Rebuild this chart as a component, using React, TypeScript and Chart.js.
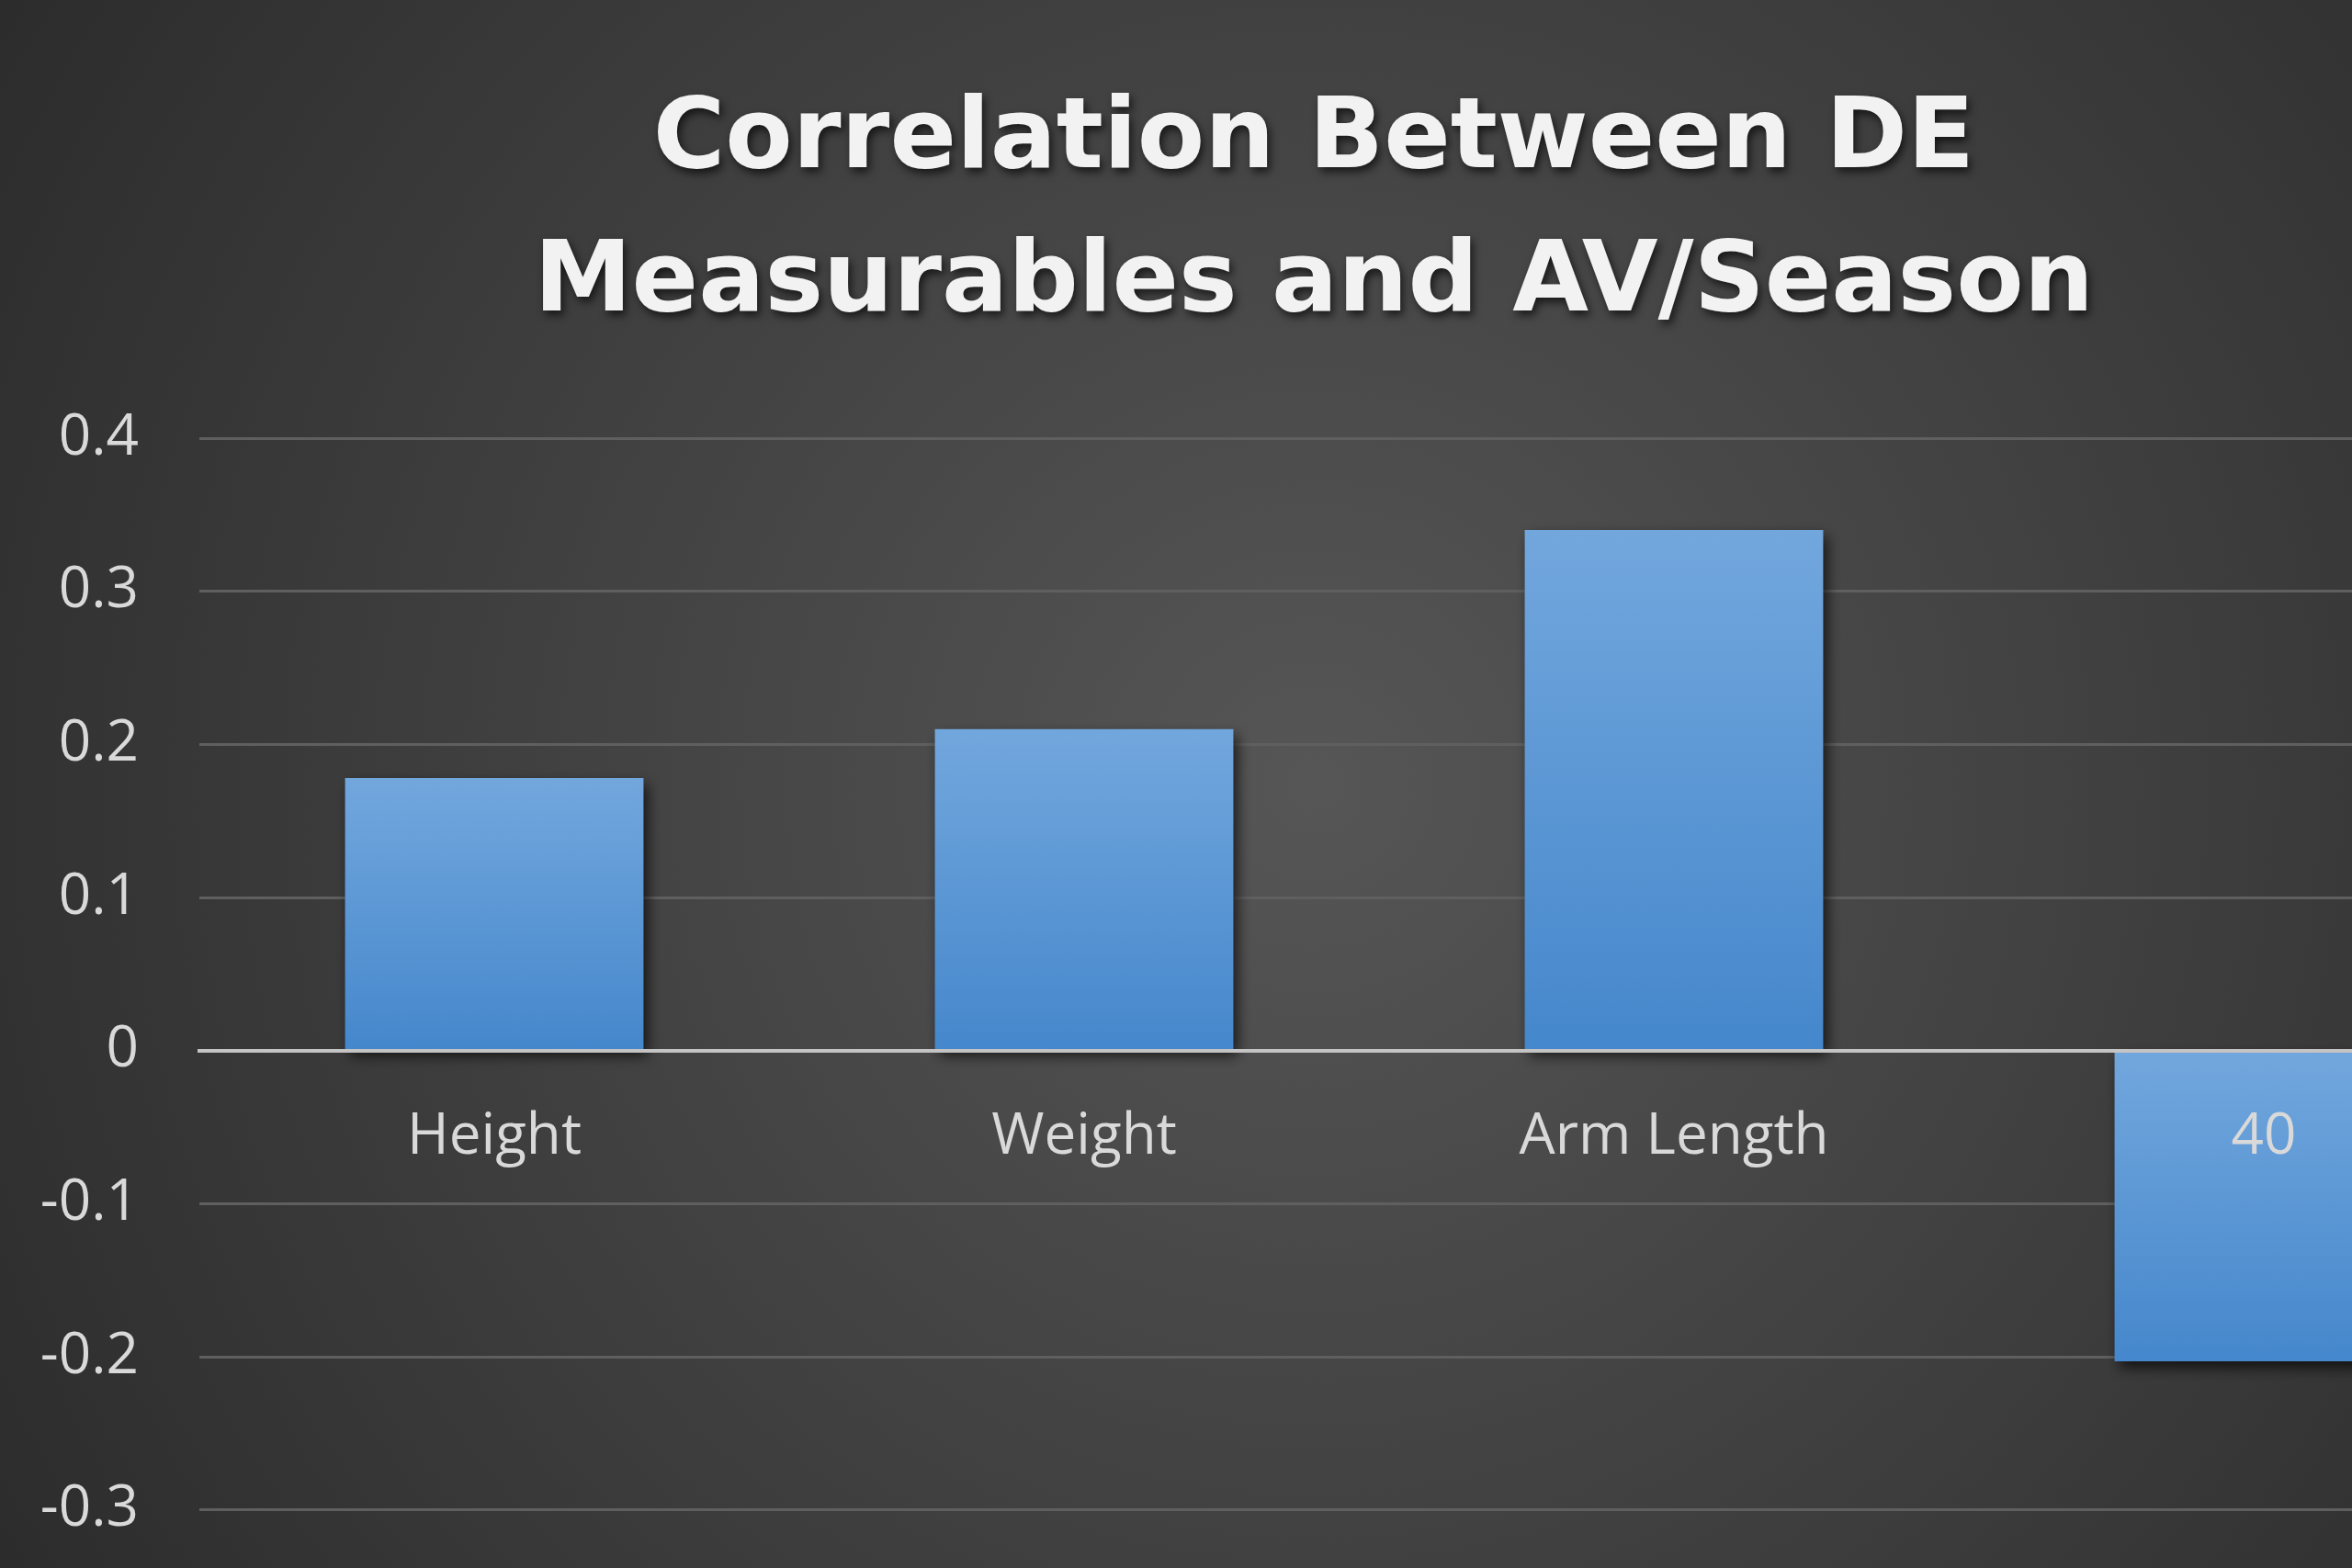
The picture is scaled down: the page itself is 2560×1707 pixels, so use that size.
import React, { useEffect, useRef } from "react";
import { Chart, registerables } from "chart.js";

Chart.register(...registerables);

// ---- data ----
const CATEGORIES = ["Height", "Weight", "Arm Length", "40"];
const CORRELATIONS = [0.178, 0.21, 0.34, -0.203];
const Y_TICK_VALUES = [-0.3, -0.2, -0.1, 0, 0.1, 0.2, 0.3, 0.4];
const Y_TICK_LABELS = ["-0.3", "-0.2", "-0.1", "0", "0.1", "0.2", "0.3", "0.4"];
const TITLE_LINES = ["Correlation Between DE", "Measurables and AV/Season"];

// ---- layout / style ----
const CANVAS_W = 2860;
const CANVAS_H = 1747;
const VIEW_W = 2560;
const VIEW_H = 1707;

const backgroundPlugin = {
  id: "radialBackground",
  beforeDraw(chart: any) {
    const { ctx, width, height } = chart;
    const cx = width / 2;
    const cy = 853;
    const g = ctx.createRadialGradient(cx, cy, 0, cx, cy, 1700);
    g.addColorStop(0, "#565656");
    g.addColorStop(1, "#2b2b2b");
    ctx.save();
    ctx.fillStyle = g;
    ctx.fillRect(0, 0, width, height);
    ctx.restore();
  },
};

const shadowPlugin = {
  id: "barShadow",
  beforeDatasetsDraw(chart: any) {
    const ctx = chart.ctx;
    ctx.save();
    ctx.shadowColor = "rgba(0,0,0,0.7)";
    ctx.shadowBlur = 14;
    ctx.shadowOffsetX = 5;
    ctx.shadowOffsetY = 7;
  },
  afterDatasetsDraw(chart: any) {
    chart.ctx.restore();
  },
};

const titlePlugin = {
  id: "shadowTitle",
  afterDraw(chart: any) {
    const ctx = chart.ctx;
    ctx.save();
    ctx.font = 'bold 107px "DejaVu Sans"';
    ctx.fillStyle = "#f2f2f2";
    ctx.textAlign = "center";
    ctx.textBaseline = "alphabetic";
    ctx.shadowColor = "rgba(0,0,0,0.65)";
    ctx.shadowBlur = 10;
    ctx.shadowOffsetX = 3;
    ctx.shadowOffsetY = 5;
    TITLE_LINES.forEach((t, i) => ctx.fillText(t, chart.width / 2, 182 + i * 156));
    ctx.restore();
  },
};

export default function App() {
  const ref = useRef<HTMLCanvasElement | null>(null);

  useEffect(() => {
    document.body.style.margin = "0";
    document.body.style.overflow = "hidden";
    if (!ref.current) return;
    const chart = new Chart(ref.current, {
      type: "bar",
      data: {
        labels: CATEGORIES,
        datasets: [
          {
            data: CORRELATIONS,
            barPercentage: 0.506,
            categoryPercentage: 1,
            borderWidth: 0,
            backgroundColor: (c: any) => {
              const chart = c.chart;
              const y = chart.scales && chart.scales.y;
              if (!y || c.type !== "data") return "#5b9bd5";
              const v = c.raw as number;
              const p0 = y.getPixelForValue(0);
              const p1 = y.getPixelForValue(v);
              const top = Math.min(p0, p1);
              const bot = Math.max(p0, p1);
              if (!isFinite(top) || !isFinite(bot) || bot - top < 1) return "#5b9bd5";
              const g = chart.ctx.createLinearGradient(0, top, 0, bot);
              g.addColorStop(0, "#72a7dd");
              g.addColorStop(1, "#4587cc");
              return g;
            },
          },
        ],
      },
      options: {
        responsive: false,
        animation: false,
        devicePixelRatio: 1,
        events: [],
        layout: { padding: { top: 477, right: 75, bottom: 24, left: 0 } },
        plugins: {
          legend: { display: false },
          title: { display: false },
          tooltip: { enabled: false },
        },
        scales: {
          x: {
            type: "category",
            position: { y: 0 } as any,
            offset: true,
            grid: { display: false, drawTicks: false },
            border: { display: true, color: "#c4c4c4", width: 4, z: 1 },
            ticks: {
              z: 1,
              color: "#d9d9d9",
              font: { family: '"Open Sans"', size: 62 },
              padding: 57,
              maxRotation: 0,
              autoSkip: false,
            },
          },
          y: {
            min: -0.3,
            max: 0.4,
            afterBuildTicks: (s: any) => {
              s.ticks = Y_TICK_VALUES.map((v) => ({ value: v }));
            },
            afterFit: (s: any) => {
              s.width = 217;
            },
            grid: { color: "#5f5f5f", lineWidth: 3, drawTicks: false },
            border: { display: false },
            ticks: {
              color: "#d9d9d9",
              font: { family: '"Open Sans"', size: 62 },
              padding: 66,
              callback: (v: any) => {
                const i = Y_TICK_VALUES.findIndex((t) => Math.abs(t - Number(v)) < 1e-9);
                return i >= 0 ? Y_TICK_LABELS[i] : "";
              },
            },
          },
        },
      },
      plugins: [backgroundPlugin, shadowPlugin, titlePlugin],
    });
    return () => chart.destroy();
  }, []);

  return (
    <div style={{ width: VIEW_W, height: VIEW_H, overflow: "hidden", position: "relative", background: "#2b2b2b" }}>
      <canvas
        ref={ref}
        width={CANVAS_W}
        height={CANVAS_H}
        style={{ display: "block", width: CANVAS_W, height: CANVAS_H }}
      />
    </div>
  );
}
